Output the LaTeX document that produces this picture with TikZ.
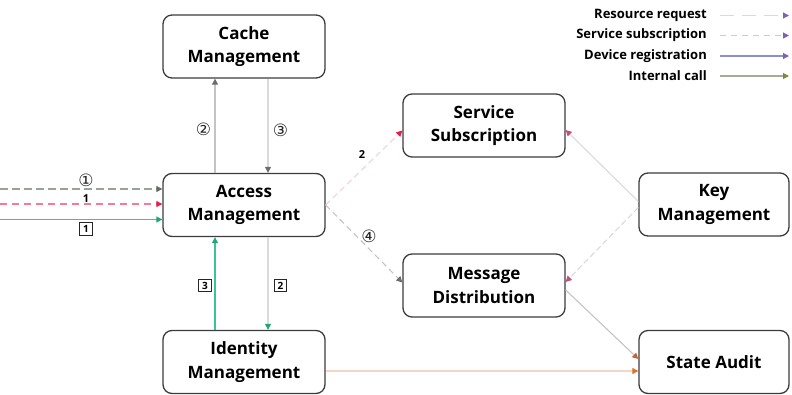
\documentclass[tikz,border=0pt]{standalone}
\usepackage{fontspec}
\setmainfont{Open Sans}
\newfontfamily\symfont{DejaVu Sans}
\usetikzlibrary{arrows.meta,calc}
\definecolor{boxline}{HTML}{3C3C3C}
\definecolor{gdash}{HTML}{9AA29C}
\definecolor{gtip}{HTML}{5E6E62}
\definecolor{pinkl}{HTML}{F27C95}
\definecolor{redtip}{HTML}{E3204C}
\definecolor{greenl}{HTML}{3CC394}
\definecolor{greentip}{HTML}{1FA874}
\definecolor{lgray}{HTML}{C4C4C4}
\definecolor{vlgray}{HTML}{DADADA}
\definecolor{dgraytip}{HTML}{6C6C6C}
\definecolor{pinkgray}{HTML}{EDD3DA}
\definecolor{rosetip}{HTML}{C45074}
\definecolor{peach}{HTML}{F2D6C6}
\definecolor{orangetip}{HTML}{E0702A}
\definecolor{browntip}{HTML}{C0643A}
\definecolor{purptip}{HTML}{7E62B2}
\definecolor{lav}{HTML}{CDC6E4}
\definecolor{devl}{HTML}{8E8ED0}
\definecolor{intl}{HTML}{A6AC98}
\definecolor{olivetip}{HTML}{7F8A3E}
\begin{document}
\begin{tikzpicture}[x=1pt,y=-1pt,
  box/.style={draw=boxline, line width=1.3pt, rounded corners=9pt, minimum width=162pt,
    minimum height=63pt, align=center, inner sep=0pt,
    font=\fontsize{17}{23.5}\selectfont\bfseries},
  tip/.style={-{Triangle[length=6pt,width=6pt,color=#1]}},
  conn/.style={line width=1.1pt},
  circ/.style={inner sep=0pt, text=black!85, font=\symfont\fontsize{17}{17}\selectfont},
  sq/.style={draw=black!85, line width=1pt, inner sep=0pt, minimum size=12.5pt,
    font=\fontsize{10}{10}\selectfont\bfseries},
  plain/.style={inner sep=0pt, font=\fontsize{11}{11}\selectfont\bfseries},
  lgd/.style={anchor=east, inner sep=0pt, font=\fontsize{13}{13}\selectfont\bfseries}
]
\useasboundingbox (0,0) rectangle (792,394);

% nodes
\node[box] (cache) at (244,46.5) {Cache\\Management};
\node[box] (access) at (244,205) {Access\\Management};
\node[box] (ident) at (244,362) {Identity\\Management};
\node[box] (ss) at (484,125.5) {Service\\Subscription};
\node[box] (md) at (484,285.5) {Message\\Distribution};
\node[box, minimum width=150pt] (key) at (714,204.5) {Key\\Management};
\node[box, minimum width=150pt] (sa) at (714,362) {State Audit};

% legend
\node[lgd] (lg1) at (707,15.5) {Resource request};
\node[lgd] (lg2) at (707,35.5) {Service subscription};
\node[lgd] (lg3) at (707,56) {Device registration};
\node[lgd] (lg4) at (707,76) {Internal call};
\coordinate (le1) at (789,15.5); \coordinate (le2) at (789,35.5);
\coordinate (le3) at (789,56); \coordinate (le4) at (789,76);
\draw[conn, vlgray, dash pattern=on 14pt off 8pt, tip=purptip] ($(lg1.east)+(13,0)$) -- (le1);
\draw[conn, lav, dash pattern=on 6pt off 5pt, tip=purptip] ($(lg2.east)+(13,0)$) -- (le2);
\draw[conn, devl, tip=purptip] ($(lg3.east)+(13,0)$) -- (le3);
\draw[conn, intl, tip=olivetip] ($(lg4.east)+(13,0)$) -- (le4);

% incoming on the left
\coordinate (in1) at (0,189);
\coordinate (in2) at (0,204);
\coordinate (in3) at (0,219.5);
\draw[conn, gdash, dash pattern=on 8pt off 4pt, tip=gtip] (in1) -- (in1 -| access.west);
\draw[conn, pinkl, dash pattern=on 7pt off 5pt, tip=redtip] (in2) -- (in2 -| access.west);
\draw[conn, greenl, tip=greentip] (in3) -- (in3 -| access.west);
\node[circ] (c1) at (86,180) {①};
\node[plain] (p1) at (86,199) {1};
\node[sq] (s1) at (86,229) {1};

% access <-> cache
\draw[conn, lgray, tip=dgraytip] ([xshift=-29pt]access.north) -- ([xshift=-29pt]cache.south);
\draw[conn, vlgray, tip=dgraytip] ([xshift=24pt]cache.south) -- ([xshift=24pt]access.north);
\node[circ] (c2) at (203.5,129.5) {②};
\node[circ] (c3) at (280.5,130) {③};

% access <-> identity
\draw[conn, greenl, tip=greentip] ([xshift=-29pt]ident.north) -- ([xshift=-29pt]access.south);
\draw[conn, vlgray, tip=greentip] ([xshift=24pt]access.south) -- ([xshift=24pt]ident.north);
\node[sq] (s3) at (205,285.5) {3};
\node[sq] (s2) at (280.5,285.5) {2};

% access -> service subscription / message distribution
\draw[conn, pinkgray, dash pattern=on 6pt off 4pt, tip=redtip] (access.east) -- ($(ss.west)+(0,5)$);
\draw[conn, lgray, dash pattern=on 6pt off 4pt, tip=dgraytip] (access.east) -- ($(md.west)+(0,-3)$);
\node[plain] (p2) at (362,155) {2};
\node[circ] (c4) at (369,236.5) {④};

% key management -> ss / md
\draw[conn, vlgray, tip=rosetip] ($(key.west)+(0,-3)$) -- ($(ss.east)+(0,4.5)$);
\draw[conn, vlgray, dash pattern=on 6pt off 3pt, tip=rosetip] ($(key.west)+(0,3)$) -- ($(md.east)+(0,-3.5)$);

% to state audit
\draw[conn, lgray, tip=browntip] ($(md.east)+(0,4.5)$) -- ($(sa.west)+(0,-3)$);
\draw[conn, peach, tip=orangetip] ($(ident.east)+(0,9)$) -- ($(sa.west)+(0,9)$);
\end{tikzpicture}
\end{document}
